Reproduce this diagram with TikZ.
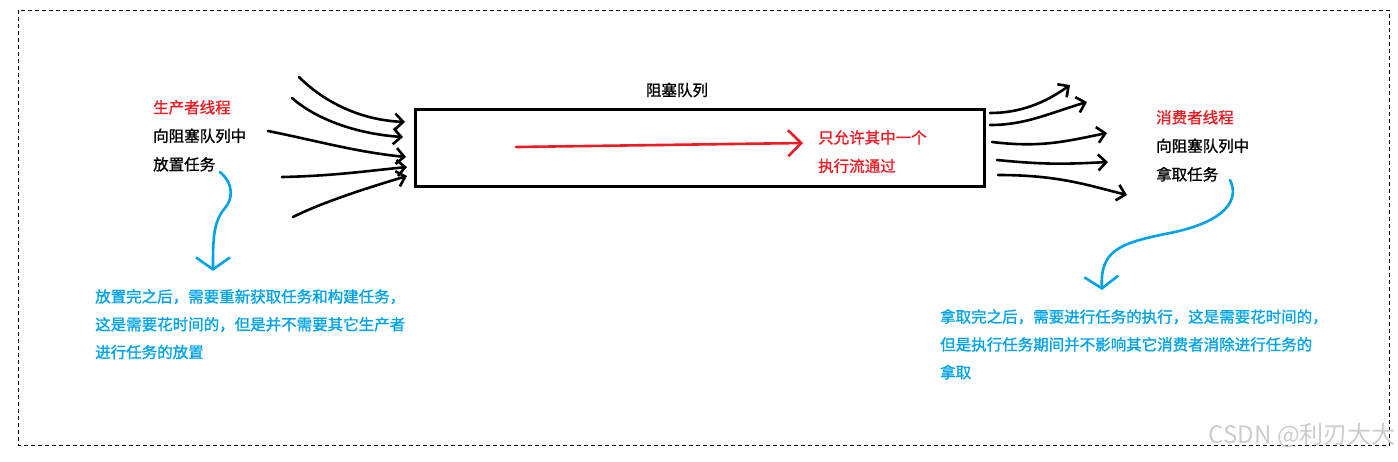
\documentclass[tikz,border=0pt]{standalone}
\usepackage{fontspec}
\setmainfont{Noto Sans CJK SC}[FakeBold=1.2]
\newfontfamily\markfont{Noto Sans CJK SC}
\usetikzlibrary{arrows.meta}

\definecolor{penred}{HTML}{ED1C24}
\definecolor{penblue}{HTML}{00A2E8}

\begin{document}
\begin{tikzpicture}[x=1pt, y=-1pt,
    hand/.style={line width=2.6pt, line cap=round, line join=round},
    inarrow/.style={hand, -{Straight Barb[length=8pt, width=16pt]}},
    flowarrow/.style={hand, draw=penred, -{Straight Barb[length=13pt, width=26pt]}},
    notearrow/.style={hand, draw=penblue, -{Straight Barb[length=12pt, width=34pt]}},
    queuebox/.style={draw, line width=3pt, minimum width=569pt, minimum height=77pt, inner sep=0pt},
    lbl/.style={font=\fontsize{15.5}{28.5}\selectfont, align=left, inner sep=0pt, anchor=north west},
    note/.style={lbl, text=penblue, font=\fontsize{15.5}{27.8}\selectfont},
]
\useasboundingbox (0,0) rectangle (1398,461);
\draw[line width=0.8pt, dash pattern=on 4pt off 3pt] (18,10) rectangle (1389,445);

% the queue
\node[queuebox] (queue) at (699.5,147.5) {};
\node[font=\fontsize{15.5}{18}\selectfont, inner sep=0pt] (title) at (677,90) {阻塞队列};
\node[lbl, text=penred] (once) at (818,130) {只允许其中一个\\执行流通过};
\coordinate (fs) at (516,147);
\coordinate (fe) at (803,143);
\draw[flowarrow] (fs) -- (fe);

% producers
\node[lbl] (prod) at (153,100) {\textcolor{penred}{生产者线程}\\向阻塞队列中\\放置任务};
\coordinate (p1) at (299,77);  \coordinate (e1) at (405,122);
\coordinate (p2) at (292,98);  \coordinate (e2) at (403,137);
\coordinate (p3) at (268,131); \coordinate (e3) at (406,157);
\coordinate (p4) at (282,177); \coordinate (e4) at (407,167);
\coordinate (p5) at (293,217); \coordinate (e5) at (407,176);
\draw[inarrow] (p1) .. controls +(25,25) and +(-45,-2) .. (e1);
\draw[inarrow] (p2) .. controls +(25,22) and +(-45,-3) .. (e2);
\draw[inarrow] (p3) .. controls +(50,10) and +(-50,-5) .. (e3);
\draw[inarrow] (p4) .. controls +(50,-1) and +(-40,4) .. (e4);
\draw[inarrow] (p5) .. controls +(30,-15) and +(-40,12) .. (e5);

% consumers
\node[lbl] (cons) at (1156,110) {\textcolor{penred}{消费者线程}\\向阻塞队列中\\拿取任务};
\coordinate (q1) at (990,113); \coordinate (o1) at (1070,85);
\coordinate (q2) at (990,125); \coordinate (o2) at (1087,102);
\coordinate (q3) at (992,142); \coordinate (o3) at (1107,133);
\coordinate (q4) at (997,160); \coordinate (o4) at (1108,162);
\coordinate (q5) at (998,175); \coordinate (o5) at (1127,195);
\draw[inarrow] (q1) .. controls +(30,0) and +(-25,18) .. (o1);
\draw[inarrow] (q2) .. controls +(35,0) and +(-40,12) .. (o2);
\draw[inarrow] (q3) .. controls +(50,6) and +(-40,8) .. (o3);
\draw[inarrow] (q4) .. controls +(50,5) and +(-40,2) .. (o4);
\draw[inarrow] (q5) .. controls +(60,0) and +(-40,-10) .. (o5);

% notes
\node[note] (prodnote) at (95,289) {放置完之后，需要重新获取任务和构建任务，\\这是需要花时间的，但是并不需要其它生产者\\进行任务的放置};
\node[note] (consnote) at (940,309) {拿取完之后，需要进行任务的执行，这是需要花时间的，\\但是执行任务期间并不影响其它消费者消除进行任务的\\拿取};
\coordinate (ps) at (220,172); \coordinate (pm) at (225,208); \coordinate (pt) at (213,271);
\coordinate (cs) at (1230,180); \coordinate (cm) at (1170,233); \coordinate (ct) at (1102,290);
\draw[notearrow] (ps) .. controls (235,185) and (232,200) .. (pm) .. controls (213,222) and (213,240) .. (pt);
\draw[notearrow] (cs) .. controls (1240,200) and (1225,222) .. (cm) .. controls (1120,243) and (1100,250) .. (ct);

\node[anchor=east, inner sep=0pt, text=gray!40, font=\markfont\fontsize{24}{26}\selectfont] (mark) at (1396,436) {CSDN @利刃大大};
\end{tikzpicture}
\end{document}
